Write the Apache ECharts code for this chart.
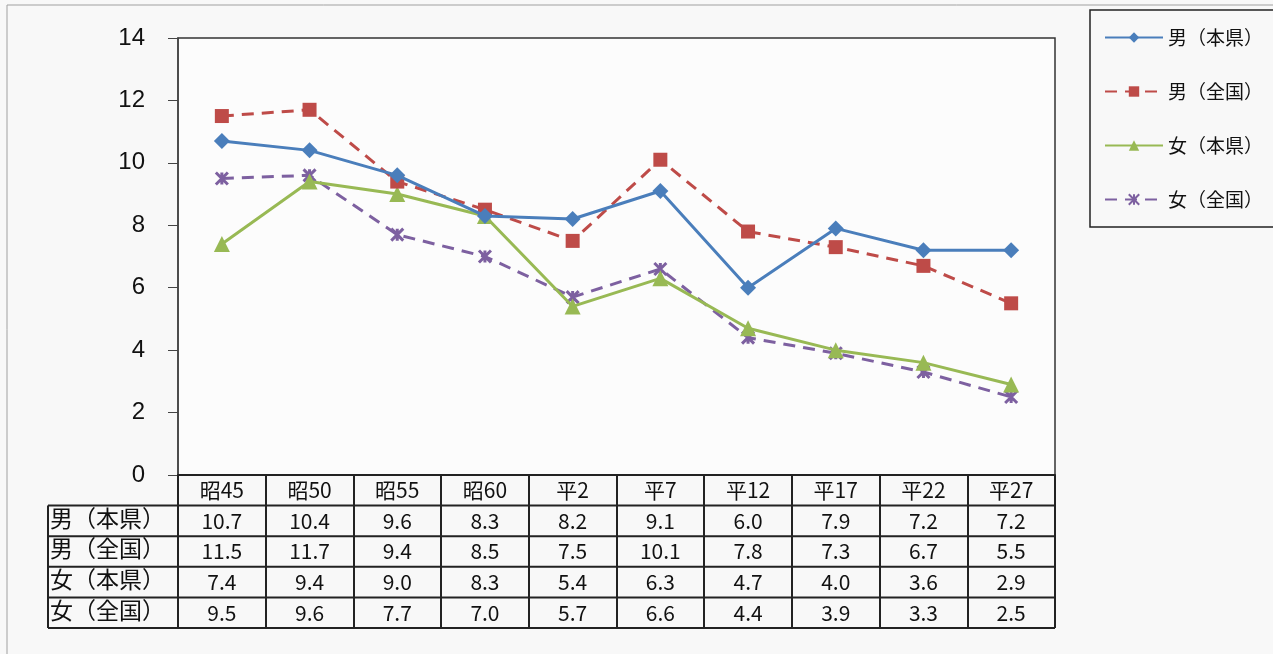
<!DOCTYPE html>
<html><head><meta charset="utf-8">
<script src="https://cdn.jsdelivr.net/npm/echarts@6/dist/echarts.min.js"></script>
<style>html,body{margin:0;padding:0;background:#fff}#c{width:1273px;height:654px}</style>
</head><body><div id="c"></div>
<script>
const categories = ['昭45','昭50','昭55','昭60','平2','平7','平12','平17','平22','平27'];
const seriesNames = ['男（本県）','男（全国）','女（本県）','女（全国）'];
const maleLocal   = [10.7,10.4,9.6,8.3,8.2,9.1,6.0,7.9,7.2,7.2];
const maleNation  = [11.5,11.7,9.4,8.5,7.5,10.1,7.8,7.3,6.7,5.5];
const femaleLocal = [7.4,9.4,9.0,8.3,5.4,6.3,4.7,4.0,3.6,2.9];
const femaleNation= [9.5,9.6,7.7,7.0,5.7,6.6,4.4,3.9,3.3,2.5];
const yTicks = [0,2,4,6,8,10,12,14];

const allData = [maleLocal, maleNation, femaleLocal, femaleNation];
const colors = ['#4a7ebb','#be4b48','#98b954','#7d60a0'];
const FONT = '"Noto Sans CJK JP", sans-serif';

const chart = echarts.init(document.getElementById('c'));
const L = 178, R = 1055, T = 38, B = 475, ROW = 30.6;
const tableLeft = 48;

const graphics = [];
graphics.push({type:'line', shape:{x1:7,y1:5,x2:1273,y2:5}, style:{stroke:'#a0a0a0',lineWidth:1}});
graphics.push({type:'line', shape:{x1:7,y1:5,x2:7,y2:654}, style:{stroke:'#a0a0a0',lineWidth:1}});
for (let i = 1; i <= 5; i++) {
  const y = B + ROW * i;
  graphics.push({type:'line', shape:{x1:tableLeft,y1:y,x2:R,y2:y}, style:{stroke:'#222',lineWidth:2}});
}
graphics.push({type:'line', shape:{x1:tableLeft,y1:B+ROW,x2:tableLeft,y2:B+ROW*5}, style:{stroke:'#222',lineWidth:2}});
seriesNames.forEach((n, i) => {
  graphics.push({type:'text', left:tableLeft+2, top:B+ROW*(i+1)+1,
    style:{text:n, font:'23px '+FONT, fill:'#111'}});
});

const symbols = ['diamond','rect','triangle','path://M0,0 L10,10 M10,0 L0,10 M5,0 L5,10'];
const sizes = [16,14,16,12];

chart.setOption({
  backgroundColor:'#f8f8f8',
  animation:false,
  textStyle:{fontFamily:FONT},
  grid:{left:L, right:1273-R, top:T, bottom:654-B, show:true, borderColor:'#333', borderWidth:1.5, backgroundColor:'#fcfcfc'},
  legend:{
    orient:'vertical', left:1090, top:10, width:180,
    padding:[18,20,18,14], itemGap:35, itemWidth:58, itemHeight:13,
    borderColor:'#222', borderWidth:1.5, backgroundColor:'#f8f8f8',
    textStyle:{fontSize:19, color:'#111', fontFamily:FONT},
    data: seriesNames
  },
  xAxis:{
    type:'category', data:categories, boundaryGap:true,
    axisLine:{lineStyle:{color:'#222', width:2}},
    axisTick:{show:true, interval:0, length:ROW*5, lineStyle:{color:'#222', width:2}},
    axisLabel:{
      interval:0, margin:0, color:'#111', fontFamily:FONT, fontSize:21, lineHeight:ROW,
      formatter:(v, idx) => {
        return [v].concat(allData.map(d => d[idx].toFixed(1))).join('\n');
      }
    }
  },
  yAxis:{
    type:'value', min:0, max:14, interval:2,
    axisLine:{show:true, lineStyle:{color:'#444', width:1.5}},
    axisTick:{show:true, length:10, lineStyle:{color:'#444'}},
    splitLine:{show:false},
    axisLabel:{fontSize:24, color:'#111', margin:33, fontFamily:'"Liberation Sans", sans-serif'}
  },
  series: allData.map((d, i) => ({
    name: seriesNames[i], type:'line', data:d,
    symbol: symbols[i], symbolSize: sizes[i],
    lineStyle:{color:colors[i], width:3, type: i % 2 === 1 ? [12,8] : 'solid'},
    itemStyle:{color:colors[i], borderColor:colors[i], borderWidth: i===3 ? 3 : 0},
    z: 10 - i
  })),
  graphic: graphics
});
</script></body></html>
